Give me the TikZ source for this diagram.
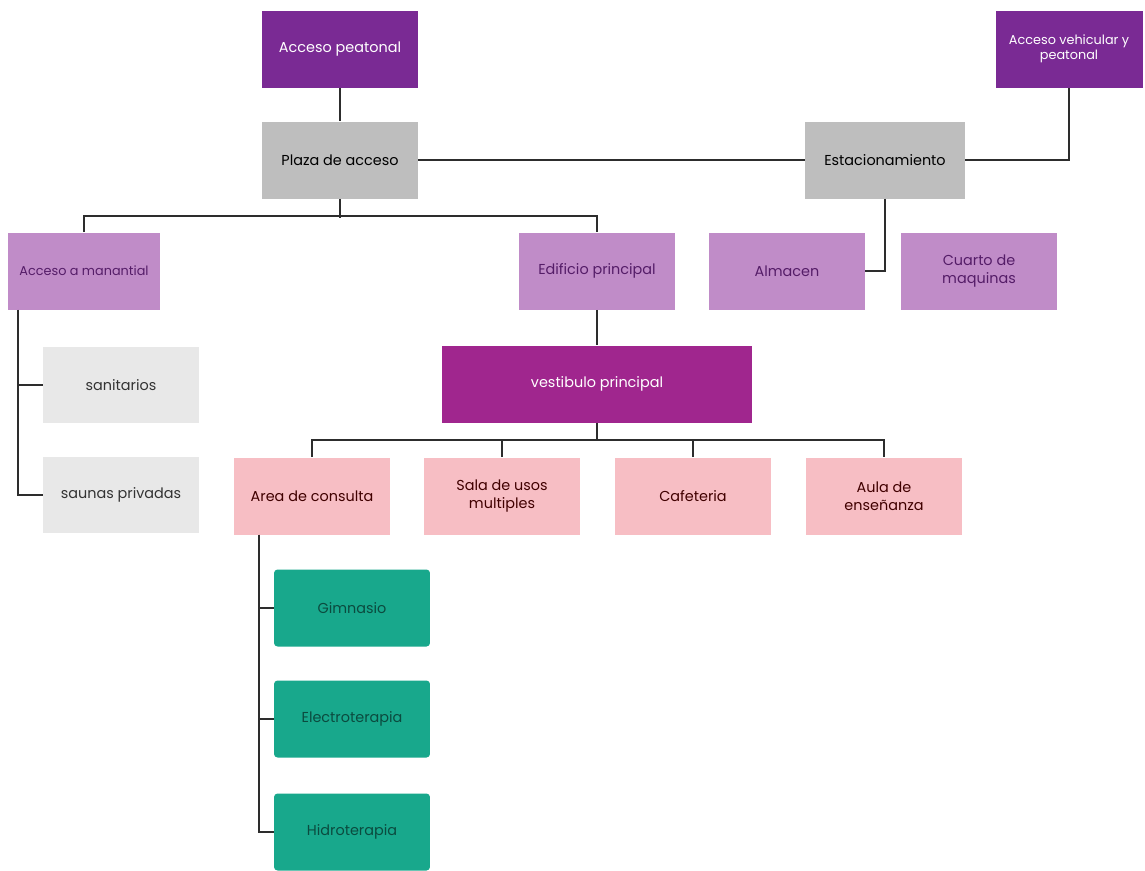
\documentclass[tikz,border=0pt]{standalone}
\usepackage{fontspec}
\setmainfont{Poppins}
\usetikzlibrary{positioning,calc}
\definecolor{mypurple}{RGB}{122,42,148}
\definecolor{mylilac}{RGB}{192,140,200}
\definecolor{mymagenta}{RGB}{160,38,142}
\definecolor{mygray}{RGB}{190,190,190}
\definecolor{mylightgray}{RGB}{232,232,232}
\definecolor{mypink}{RGB}{247,190,196}
\definecolor{myteal}{RGB}{24,168,140}
\definecolor{myline}{RGB}{45,45,45}

\begin{document}
\begin{tikzpicture}[x=0.02cm,y=-0.02cm,
  box/.style={rectangle, minimum width=3.12cm, minimum height=1.54cm, align=center, inner sep=1pt, font=\fontsize{8.2}{10}\selectfont},
  smalltext/.style={font=\fontsize{7.3}{8.8}\selectfont},
  accbox/.style={box, fill=mypurple, text=white},
  plazabox/.style={box, fill=mygray, text=black},
  zonebox/.style={box, fill=mylilac, text=mypurple!70!black},
  vestbox/.style={box, fill=mymagenta, text=white, minimum width=6.22cm},
  servbox/.style={box, fill=mylightgray, text=black!80},
  roombox/.style={box, fill=mypink, text=black!75!red},
  therbox/.style={box, fill=myteal, text=myteal!45!black, rounded corners=2pt},
  link/.style={draw=myline, line width=1.1pt}]
  \useasboundingbox (0,0) rectangle (1145,870);

  % access level
  \node[accbox] (peat) at (340,49) {Acceso peatonal};
  \node[accbox, smalltext, minimum width=2.94cm] (vehic) at (1069,49) {Acceso vehicular y\\peatonal};
  \node[plazabox] (plaza) at (340,160) {Plaza de acceso};
  \node[plazabox, minimum width=3.2cm] (estac) at (885,160) {Estacionamiento};
  \draw[link] (peat) -- (plaza);
  \draw[link] (plaza) -- (estac);
  \draw[link] (estac.east) -| (vehic.south);

  % zones
  \node[zonebox, smalltext, minimum width=3.04cm] (manan) at (84,271) {Acceso a manantial};
  \node[zonebox] (edif) at (597,271) {Edificio principal};
  \node[zonebox] (alm) at (787,271) {Almacen};
  \node[zonebox] (cuarto) at (979,271) {Cuarto de\\maquinas};
  \draw[link] (plaza.south) -- ++(0,19);
  \draw[link] (manan.north) -- ++(0,-16) -| (edif.north);
  \draw[link] (estac.south) |- (alm.east);

  % spring services
  \node[servbox, minimum height=1.52cm] (sanit) at (121,385) {sanitarios};
  \node[servbox, minimum height=1.52cm] (sauna) at (121,495) {saunas privadas};
  \draw[link] ([xshift=0.2cm]manan.south west) |- (sanit.west);
  \draw[link] ([xshift=0.2cm]manan.south west) |- (sauna.west);

  % main building
  \node[vestbox] (vest) at (597,384) {vestibulo principal};
  \draw[link] (edif) -- (vest);
  \node[roombox] (area) at (312,496) {Area de consulta};
  \node[roombox] (sala) at (502,496) {Sala de usos\\multiples};
  \node[roombox] (cafe) at (693,496) {Cafeteria};
  \node[roombox] (aula) at (884,496) {Aula de\\enseñanza};
  \draw[link] (vest.south) -- ++(0,17);
  \draw[link] (area.north) -- ++(0,-17) -| (aula.north);
  \draw[link] (sala.north) -- ++(0,-17);
  \draw[link] (cafe.north) -- ++(0,-17);

  % therapies
  \node[therbox] (gimn) at (352,608) {Gimnasio};
  \node[therbox] (electro) at (352,719) {Electroterapia};
  \node[therbox] (hidro) at (352,832) {Hidroterapia};
  \draw[link] ([xshift=0.5cm]area.south west) |- (gimn.west);
  \draw[link] ([xshift=0.5cm]area.south west) |- (electro.west);
  \draw[link] ([xshift=0.5cm]area.south west) |- (hidro.west);
\end{tikzpicture}
\end{document}
